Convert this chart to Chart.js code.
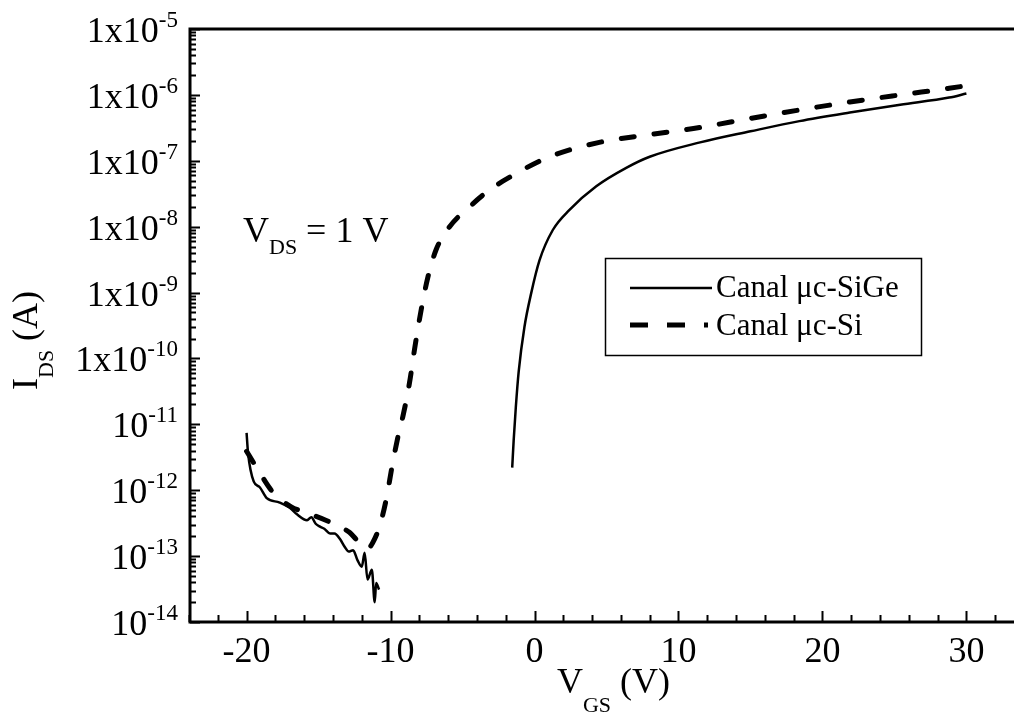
<!DOCTYPE html>
<html>
<head>
<meta charset="utf-8">
<script src="https://cdn.jsdelivr.net/npm/chart.js@4/dist/chart.umd.min.js"></script>
<style>
  html, body { margin: 0; padding: 0; background: #fff; overflow: hidden; width: 1014px; height: 720px; }
  #wrap { width: 1030px; height: 720px; }
  canvas { display: block; }
</style>
</head>
<body>
<div id="wrap"><canvas id="chart" width="1030" height="720"></canvas></div>
<script>
// Transfer characteristics I_DS(V_GS) at V_DS = 1 V
const vgsSiGe = [-20, -19.9, -19.5, -19.1, -18.6, -17.7, -17.0, -16.5, -15.8, -15.5, -15.2, -14.9, -14.6, -14.2,
  -13.9, -13.5, -13.2, -12.9, -12.6, -12.3, -12.0, -11.8, -11.6, -11.3, -11.1, -11.0, -10.8,
  -6,
  -1.55, -1.45, -1.3, -1.1, -0.7, -0.23, 0.35, 1.27, 2.43, 4.29, 6.37, 8.0, 11.5, 15, 18.4, 21.9, 25.4, 28.8, 30];
const idsSiGe = [7.4e-12, 3.7e-12, 1.35e-12, 1.12e-12, 7.6e-13, 6.5e-13, 5.4e-13, 4.3e-13, 3.5e-13, 3.9e-13, 3.1e-13, 2.8e-13, 2.6e-13, 2.2e-13,
  2.2e-13, 1.8e-13, 1.4e-13, 1.17e-13, 1.23e-13, 8.7e-14, 6.9e-14, 1.12e-13, 4.4e-14, 6.2e-14, 2.0e-14, 3.9e-14, 3.1e-14,
  null,
  2.2e-12, 5.6e-12, 1.8e-11, 6.3e-11, 3.0e-10, 9.8e-10, 3.1e-9, 8.9e-9, 1.8e-8, 4.1e-8, 7.8e-8, 1.15e-7, 1.9e-7, 2.8e-7, 4.0e-7, 5.4e-7, 7.1e-7, 9.1e-7, 1.05e-6];

const vgsSi = [-20, -19.3, -18.2, -16.9, -15.9, -14.5, -13.55, -12.86, -12.16, -11.58, -11.24, -10.77, -10.31, -9.85,
  -9.4, -9.15, -8.69, -8.34, -7.87, -7.41, -6.83, -5.9, -4.52, -3.13, -1.51, 1.04, 4.5, 8, 11.5, 15, 18.4, 21.9, 25.4, 28.8, 30];
const idsSi = [3.9e-12, 2.2e-12, 9.5e-13, 5.6e-13, 4.6e-13, 3.5e-13, 2.8e-13, 2.3e-13, 1.6e-13, 1.3e-13, 1.6e-13, 2.8e-13, 7.1e-13, 2.6e-12,
  7.9e-12, 1.3e-11, 4.2e-11, 1.35e-10, 5.5e-10, 1.7e-9, 4.5e-9, 1.0e-8, 2.0e-8, 3.6e-8, 6.0e-8, 1.15e-7, 1.9e-7, 2.5e-7, 3.2e-7, 4.4e-7, 5.9e-7, 7.8e-7, 1.0e-6, 1.26e-6, 1.38e-6];

const seriesNames = ['Canal μc-SiGe', 'Canal μc-Si'];
const xTickLabels = [-20, -10, 0, 10, 20, 30];
const xMinorStep = 2;
const yTickExponents = [-14, -13, -12, -11, -10, -9, -8, -7, -6, -5];
const xRange = [-24, 34];
const yRange = [1e-14, 1e-5];

const SERIF = "'Liberation Serif', 'Times New Roman', serif";

function pairs(xs, ys) {
  return xs.map((x, i) => ({ x: x, y: ys[i] }));
}

// draws base text followed by a raised or lowered smaller part
function drawRun(ctx, parts, x, y) {
  let cx = x;
  for (const p of parts) {
    ctx.font = p.size + 'px ' + SERIF;
    ctx.fillText(p.text, cx, y + (p.dy || 0));
    cx += ctx.measureText(p.text).width;
  }
  return cx;
}
function runWidth(ctx, parts) {
  let w = 0;
  for (const p of parts) {
    ctx.font = p.size + 'px ' + SERIF;
    w += ctx.measureText(p.text).width;
  }
  return w;
}

const framePlugin = {
  id: 'frame',
  afterDatasetsDraw(chart) {
    const ctx = chart.ctx;
    const xs = chart.scales.x, ys = chart.scales.y;
    const L = chart.chartArea.left + 1, T = chart.chartArea.top, B = chart.chartArea.bottom;
    const R = chart.width;
    ctx.save();
    ctx.strokeStyle = '#000';
    ctx.fillStyle = '#000';

    // frame: left, bottom, top
    ctx.lineWidth = 3;
    ctx.beginPath();
    ctx.moveTo(R, T); ctx.lineTo(L, T); ctx.lineTo(L, B); ctx.lineTo(R, B);
    ctx.stroke();

    // y ticks (inside)
    ctx.lineWidth = 2;
    ctx.beginPath();
    for (const e of yTickExponents) {
      for (let m = 1; m <= 9; m++) {
        const v = m * Math.pow(10, e);
        if (v > yRange[1] * 1.0001) break;
        const py = Math.round(ys.getPixelForValue(v)) + 0.5;
        const len = m === 1 ? 10 : 6;
        ctx.moveTo(L, py); ctx.lineTo(L + len, py);
      }
    }
    ctx.stroke();

    // x ticks (inside)
    ctx.beginPath();
    for (let v = xRange[0]; v <= xRange[1]; v += xMinorStep) {
      const px = Math.round(xs.getPixelForValue(v)) + 0.5;
      const len = (v % 10 === 0) ? 11 : 7;
      ctx.moveTo(px, B); ctx.lineTo(px, B - len);
    }
    ctx.stroke();

    // x tick labels
    ctx.textBaseline = 'alphabetic';
    ctx.textAlign = 'center';
    ctx.font = '36px ' + SERIF;
    for (const v of xTickLabels) {
      ctx.fillText(String(v), xs.getPixelForValue(v), B + 40);
    }

    // y tick labels with superscript exponents
    ctx.textAlign = 'left';
    for (const e of yTickExponents) {
      const py = ys.getPixelForValue(Math.pow(10, e));
      const parts = [
        { text: e >= -10 ? '1x10' : '10', size: 36, dy: 0 },
        { text: String(e), size: 23, dy: -15 }
      ];
      const w = runWidth(ctx, parts);
      drawRun(ctx, parts, 178 - w, py + 13);
    }

    // axis titles
    const xTitle = [
      { text: 'V', size: 36, dy: 0 },
      { text: 'GS', size: 22, dy: 19 },
      { text: ' (V)', size: 36, dy: 0 }
    ];
    drawRun(ctx, xTitle, 670 - runWidth(ctx, xTitle), 693);

    const yTitle = [
      { text: 'I', size: 36, dy: 0 },
      { text: 'DS', size: 22, dy: 16 },
      { text: ' (A)', size: 36, dy: 0 }
    ];
    ctx.save();
    ctx.translate(37, 390);
    ctx.rotate(-Math.PI / 2);
    drawRun(ctx, yTitle, 0, 0);
    ctx.restore();

    // bias note
    drawRun(ctx, [
      { text: 'V', size: 36, dy: 0 },
      { text: 'DS', size: 22, dy: 12 },
      { text: ' = 1 V', size: 36, dy: 0 }
    ], 243, 242);

    // legend box
    ctx.lineWidth = 1.5;
    ctx.strokeRect(605.5, 258.5, 316, 97);
    ctx.lineWidth = 2.5;
    ctx.beginPath(); ctx.moveTo(630, 288); ctx.lineTo(712, 288); ctx.stroke();
    ctx.lineWidth = 5;
    ctx.setLineDash([18, 19]);
    ctx.beginPath(); ctx.moveTo(630, 325); ctx.lineTo(708, 325); ctx.stroke();
    ctx.setLineDash([]);
    ctx.font = '31px ' + SERIF;
    ctx.fillText(seriesNames[0], 716, 297);
    ctx.fillText(seriesNames[1], 716, 335);

    ctx.restore();
  }
};

new Chart(document.getElementById('chart'), {
  type: 'line',
  data: {
    datasets: [
      {
        label: seriesNames[0],
        data: pairs(vgsSiGe, idsSiGe),
        borderColor: '#000',
        borderWidth: 2.5,
        pointRadius: 0,
        spanGaps: false,
        cubicInterpolationMode: 'monotone'
      },
      {
        label: seriesNames[1],
        data: pairs(vgsSi, idsSi),
        borderColor: '#000',
        borderWidth: 5,
        borderDash: [13, 20],
        borderCapStyle: 'round',
        pointRadius: 0,
        cubicInterpolationMode: 'monotone'
      }
    ]
  },
  options: {
    responsive: false,
    animation: false,
    devicePixelRatio: 1,
    layout: { padding: { left: 189, top: 29, right: 6, bottom: 98 } },
    plugins: { legend: { display: false }, tooltip: { enabled: false } },
    scales: {
      x: { type: 'linear', min: xRange[0], max: xRange[1], display: false },
      y: { type: 'logarithmic', min: yRange[0], max: yRange[1], display: false }
    }
  },
  plugins: [framePlugin]
});
</script>
</body>
</html>
